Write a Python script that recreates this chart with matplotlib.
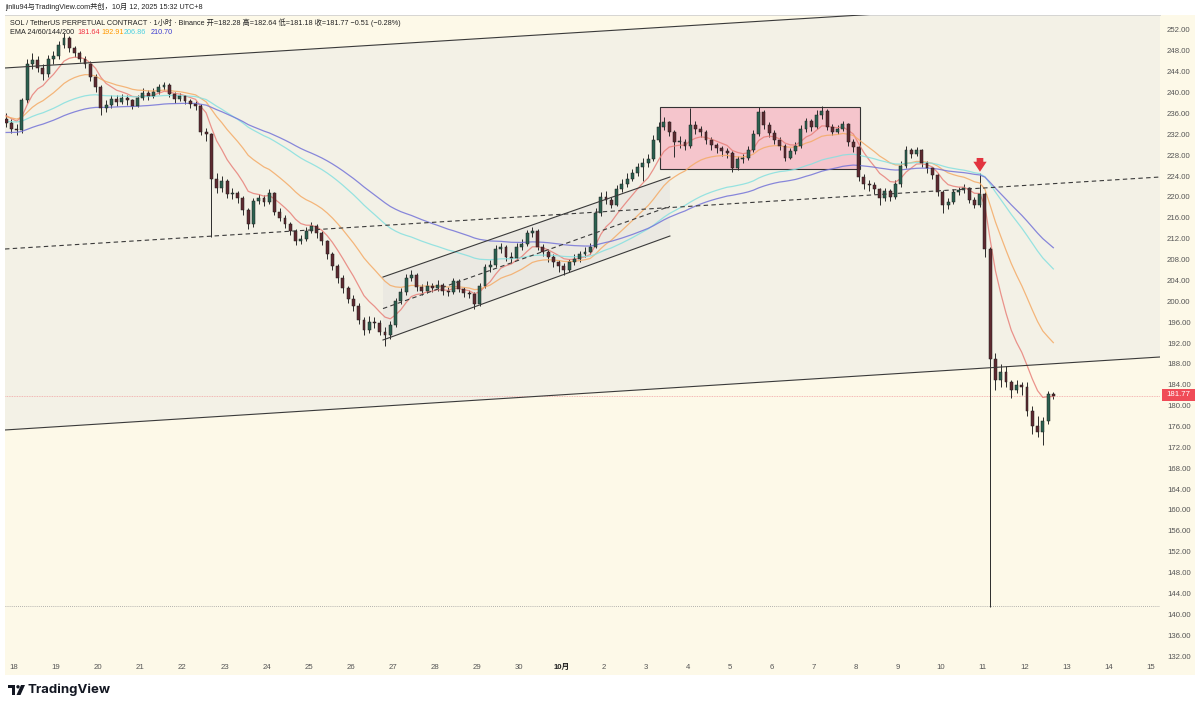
import matplotlib
matplotlib.use("Agg")
import matplotlib.pyplot as plt
import numpy as np
import pandas as pd
from matplotlib.patches import Polygon, Rectangle, FancyArrowPatch, Circle

plt.rcParams["font.family"] = ["Liberation Sans", "Noto Sans CJK SC", "DejaVu Sans"]

# 3-hour candles, day 0 = Sep 18 00:00 (UTC+8)
START_DAY = -0.25
BAR_DAYS = 0.125
FIRST_OPEN = 235.0

CLOSE = [
    234.2, 233.0,                                                   # Sep 17
    232.8, 238.5, 245.5, 246.2, 244.8, 243.5, 246.5, 247.0,         # Sep 18
    249.2, 250.5, 248.5, 247.5, 246.5, 245.5, 243.0, 241.0,         # Sep 19
    237.0, 237.6, 238.8, 238.2, 239.0, 238.5, 237.5, 239.0,         # Sep 20
    240.0, 239.3, 240.2, 241.0, 241.5, 239.8, 238.8, 239.3,         # Sep 21
    238.3, 237.8, 237.5, 232.5, 232.0, 223.5, 221.8, 223.0,         # Sep 22
    220.5, 220.8, 219.8, 217.5, 214.8, 219.2, 219.8, 219.0,         # Sep 23
    220.8, 217.2, 216.0, 214.8, 213.5, 211.5, 212.0, 213.5,         # Sep 24
    214.5, 213.0, 211.5, 209.0, 206.8, 204.5, 202.5, 200.5,         # Sep 25
    199.0, 196.5, 194.5, 196.0, 195.8, 194.2, 193.5, 195.5,         # Sep 26
    200.0, 201.8, 204.5, 205.0, 202.7, 202.0, 203.0, 202.5,         # Sep 27
    203.2, 202.0, 201.8, 203.8, 202.3, 201.5, 201.3, 199.5,         # Sep 28
    203.0, 206.5, 207.0, 210.0, 210.5, 208.5, 208.3, 210.5,         # Sep 29
    211.0, 213.0, 213.5, 210.5, 209.5, 208.5, 207.5, 206.8,         # Sep 30
    206.0, 207.5, 208.2, 209.0, 209.5, 210.5, 217.0, 220.0,         # Oct 1
    219.4, 218.5, 221.5, 222.5, 223.5, 224.5, 225.8, 226.5,         # Oct 2
    227.2, 231.0, 233.5, 234.3, 232.5, 230.5, 230.5, 229.8,         # Oct 3
    233.8, 233.0, 232.4, 231.0, 230.0, 229.3, 228.8, 228.5,         # Oct 4
    225.5, 227.2, 227.5, 229.0, 232.0, 236.3, 233.8, 232.3,         # Oct 5
    231.0, 229.8, 227.5, 228.8, 229.8, 233.0, 234.5, 233.5,         # Oct 6
    235.8, 236.5, 233.5, 232.5, 233.0, 234.0, 230.5, 229.5,         # Oct 7
    223.8, 222.5, 222.2, 221.5, 219.8, 221.2, 220.0, 222.5,         # Oct 8
    226.0, 229.0, 228.3, 229.0, 226.5, 225.5, 224.3, 221.0,         # Oct 9
    218.5, 219.0, 221.0, 221.3, 221.8, 219.5, 218.5, 220.5,         # Oct 10
    210.0, 189.0, 185.0, 186.5, 184.5, 183.0, 184.0, 183.5,         # Oct 11
    179.0, 176.0, 175.0, 177.0, 182.28, 181.77,                     # Oct 12
]
HIGH = [
    236.0, 235.0,
    234.0, 239.0, 246.5, 247.5, 247.0, 245.5, 247.2, 248.0,
    249.8, 251.5, 250.8, 249.0, 248.0, 247.0, 246.0, 243.5,
    241.5, 238.5, 239.5, 239.6, 239.8, 239.5, 238.8, 239.6,
    240.8, 240.5, 240.8, 241.6, 242.0, 241.8, 240.2, 240.0,
    239.6, 238.8, 238.3, 237.8, 233.2, 232.3, 224.5, 224.0,
    223.5, 221.8, 221.2, 220.2, 217.8, 219.8, 220.6, 220.3,
    221.5, 221.0, 217.8, 216.5, 215.2, 213.8, 212.8, 214.2,
    215.2, 214.8, 213.4, 211.8, 209.5, 207.2, 205.0, 203.0,
    201.2, 199.6, 197.0, 197.2, 197.0, 196.4, 195.0, 196.2,
    200.6, 202.6, 205.2, 206.0, 205.4, 203.4, 203.8, 203.6,
    204.0, 203.6, 202.8, 204.4, 204.2, 202.8, 202.2, 201.8,
    203.6, 207.2, 208.0, 210.8, 211.2, 210.8, 209.4, 211.2,
    212.0, 213.6, 214.3, 213.8, 211.0, 210.0, 209.0, 208.0,
    207.4, 208.2, 209.0, 209.6, 210.4, 211.2, 217.8, 221.0,
    221.2, 220.0, 222.2, 223.4, 224.6, 225.4, 226.6, 227.4,
    228.2, 231.8, 234.4, 235.3, 234.6, 232.8, 231.6, 231.2,
    237.0, 234.6, 233.6, 232.8, 231.4, 230.4, 229.8, 229.4,
    228.8, 227.8, 228.2, 229.8, 232.8, 237.3, 236.6, 234.4,
    232.8, 231.4, 230.2, 229.4, 230.6, 233.8, 235.2, 235.0,
    236.6, 237.4, 236.8, 234.0, 233.8, 234.6, 234.2, 231.2,
    229.8, 224.4, 223.2, 222.8, 221.8, 221.8, 221.6, 223.2,
    226.8, 229.8, 229.4, 229.6, 229.2, 226.8, 225.8, 224.6,
    221.4, 219.8, 221.6, 222.0, 222.4, 222.0, 220.0, 224.6,
    221.0, 210.5, 190.0, 188.0, 187.5, 185.0, 185.0, 184.5,
    184.5, 180.0, 178.0, 177.8, 182.8, 182.64,
]
LOW = [
    233.5, 232.2,
    231.8, 232.3, 238.0, 244.5, 244.0, 242.5, 243.0, 245.5,
    246.5, 248.5, 247.8, 246.8, 245.8, 244.8, 242.2, 240.2,
    235.7, 236.2, 237.0, 237.5, 237.8, 237.6, 236.8, 237.2,
    238.6, 238.6, 239.0, 239.8, 240.5, 239.2, 238.0, 238.3,
    237.8, 237.0, 236.6, 231.8, 230.8, 212.3, 220.8, 221.0,
    219.8, 219.6, 218.8, 216.6, 213.8, 214.2, 218.6, 218.2,
    218.6, 216.6, 215.3, 214.0, 212.8, 210.8, 210.9, 211.6,
    213.0, 212.2, 210.8, 208.2, 206.0, 203.6, 201.6, 199.6,
    198.2, 195.6, 193.6, 194.0, 194.8, 193.5, 191.4, 192.8,
    195.0, 199.4, 201.2, 203.8, 202.0, 201.2, 201.6, 201.8,
    202.0, 201.2, 201.0, 201.4, 201.8, 200.8, 200.6, 198.5,
    199.0, 202.6, 205.6, 206.6, 209.2, 207.8, 207.4, 208.0,
    209.8, 210.6, 212.4, 209.8, 208.6, 207.6, 206.6, 205.6,
    205.0, 205.6, 207.0, 207.6, 208.4, 209.0, 210.2, 216.4,
    218.6, 217.8, 218.2, 221.0, 222.0, 223.0, 224.0, 223.0,
    225.8, 226.8, 230.6, 232.8, 231.6, 227.7, 229.4, 229.0,
    229.4, 232.0, 231.4, 230.2, 229.0, 228.4, 227.8, 227.4,
    224.8, 225.2, 226.6, 227.0, 228.6, 231.6, 233.0, 231.5,
    230.2, 229.0, 226.8, 227.2, 228.2, 229.4, 232.4, 232.6,
    233.0, 235.0, 232.8, 231.8, 232.0, 232.6, 229.8, 228.6,
    223.0, 221.6, 221.2, 220.6, 218.5, 219.2, 219.2, 219.6,
    222.0, 225.6, 227.4, 227.8, 225.8, 224.6, 223.4, 220.2,
    217.0, 217.6, 218.6, 220.4, 220.8, 218.8, 217.8, 218.0,
    208.5, 141.4, 183.0, 183.5, 183.5, 181.5, 182.5, 182.0,
    178.0, 174.5, 174.0, 172.5, 176.5, 181.18,
]

EMA_NAMES = ["24", "60", "144", "200"]
EMA_SPANS = [8, 20, 48, 67]          # 1h periods rescaled to 3h bars
EMA_SEEDS = [236.0, 235.5, 234.5, 232.3]
EMA_LAST = ["181.64", "192.91", "206.86", "210.70"]
EMA_LINE_COLORS = ["#e8817a", "#f4ab67", "#86e0e0", "#7474d8"]
EMA_TEXT_COLORS = ["#f23645", "#ff9800", "#4dd0e1", "#3c3cd0"]

DAY_TICKS = list(range(28))
DAY_LABELS = [str(d) for d in range(18, 31)] + ["10月"] + [str(d) for d in range(2, 16)]
PRICE_TICKS = list(range(132, 253, 4))

# drawings (day, price)
WIDE_UPPER = [(-0.214, 244.72), (27.22, 258.42)]
WIDE_LOWER = [(-0.214, 175.33), (27.22, 189.32)]
WIDE_MID = [(-0.214, 210.02), (27.22, 223.82)]
CH_UPPER = [(8.765, 204.65), (15.58, 223.82)]
CH_LOWER = [(8.765, 192.58), (15.58, 212.51)]
CH_MID = [(8.765, 198.6), (15.58, 218.2)]
BOX = (15.35, 20.09, 225.36, 237.24)
ARROW_DAY = 22.945
LOW_LINE = 141.6
LAST_PRICE = 181.77

W, H = 1200, 707
CREAM = "#fdf9e8"
BAND = "#f3f1e6"
FS = 5.2
AXFS = 5.6

fig = plt.figure(figsize=(W / 100, H / 100), dpi=100)
fig.patch.set_facecolor("white")

bg = fig.add_axes([0, 0, 1, 1], zorder=0)
bg.set_xlim(0, W)
bg.set_ylim(H, 0)
bg.axis("off")
bg.add_patch(Rectangle((5, 15), 1190, 660, facecolor=CREAM, edgecolor="none"))

ax = fig.add_axes([5 / W, (H - 660) / H, 1155 / W, 645 / H], zorder=1)
ax.set_facecolor("none")
ax.set_xlim(-0.2138, 27.221)
ax.set_ylim(131.24, 254.875)
for s in ["left", "bottom", "right"]:
    ax.spines[s].set_visible(False)
ax.spines["top"].set_color("#d0d0d0")
ax.spines["top"].set_linewidth(0.6)

# wide channel band
xs = [WIDE_UPPER[0][0], WIDE_UPPER[1][0], WIDE_LOWER[1][0], WIDE_LOWER[0][0]]
ys = [WIDE_UPPER[0][1], WIDE_UPPER[1][1], WIDE_LOWER[1][1], WIDE_LOWER[0][1]]
ax.add_patch(Polygon(list(zip(xs, ys)), closed=True, facecolor=BAND, edgecolor="none", zorder=0.5))
for seg, ls in [(WIDE_UPPER, "-"), (WIDE_LOWER, "-"), (WIDE_MID, (0, (4, 3)))]:
    ax.plot([seg[0][0], seg[1][0]], [seg[0][1], seg[1][1]], color="#3a3a3a", lw=0.8, ls=ls, zorder=4)

# small parallel channel
poly = [CH_UPPER[0], CH_UPPER[1], CH_LOWER[1], CH_LOWER[0]]
ax.add_patch(Polygon(poly, closed=True, facecolor="#e9e8e1", edgecolor="none", alpha=0.8, zorder=0.8))
for seg, ls in [(CH_UPPER, "-"), (CH_LOWER, "-"), (CH_MID, (0, (4, 3)))]:
    ax.plot([seg[0][0], seg[1][0]], [seg[0][1], seg[1][1]], color="#3a3a3a", lw=0.8, ls=ls, zorder=4)

# range box
ax.add_patch(Rectangle((BOX[0], BOX[2]), BOX[1] - BOX[0], BOX[3] - BOX[2],
                       facecolor="#f5c5cc", edgecolor="#333333", lw=0.8, zorder=0.9))

ax.axhline(LOW_LINE, color="#9a9a9a", lw=0.6, ls=(0, (1, 1.5)), zorder=1)
ax.axhline(LAST_PRICE, color="#f2a3a3", lw=0.6, ls=(0, (1, 1)), zorder=1)

# candles
close = np.array(CLOSE)
opens = np.concatenate([[FIRST_OPEN], close[:-1]])
high = np.array(HIGH)
low = np.array(LOW)
t = START_DAY + np.arange(len(close)) * BAR_DAYS + BAR_DAYS / 2
up = close >= opens
ax.vlines(t, low, high, color="#2b2b2b", lw=0.7, zorder=2)
body_h = np.maximum(np.abs(close - opens), 0.15)
body_b = np.minimum(close, opens)
ax.bar(t[up], body_h[up], bottom=body_b[up], width=BAR_DAYS * 0.55,
       color="#2b6150", edgecolor="#1d1d1d", lw=0.35, zorder=3)
ax.bar(t[~up], body_h[~up], bottom=body_b[~up], width=BAR_DAYS * 0.55,
       color="#5e2a30", edgecolor="#1d1d1d", lw=0.35, zorder=3)

# EMAs
cs = pd.Series(close)
for span, seed, col in zip(EMA_SPANS, EMA_SEEDS, EMA_LINE_COLORS):
    ema = pd.concat([pd.Series([seed]), cs], ignore_index=True).ewm(span=span, adjust=False).mean().iloc[1:]
    ax.plot(t, ema.values, color=col, lw=0.9, alpha=0.85, zorder=2.5)

# signal arrow
ax.add_patch(FancyArrowPatch((ARROW_DAY, 228.0), (ARROW_DAY, 224.3),
                             arrowstyle="simple,head_width=1.2,head_length=0.9,tail_width=0.6",
                             mutation_scale=8, color="#e2343f", lw=0, zorder=5))

ax.set_xticks(DAY_TICKS)
ax.set_xticklabels(DAY_LABELS)
ax.tick_params(axis="x", length=0, pad=3, labelsize=AXFS, labelcolor="#555555")
for lab in ax.get_xticklabels():
    if lab.get_text() == "10月":
        lab.set_fontweight("bold")
        lab.set_color("#222222")
ax.yaxis.tick_right()
ax.set_yticks(PRICE_TICKS)
ax.set_yticklabels([f"{p:.2f}" for p in PRICE_TICKS])
ax.tick_params(axis="y", length=0, pad=5, labelsize=AXFS, labelcolor="#555555")

# overlay texts
ov = fig.add_axes([0, 0, 1, 1], zorder=3)
ov.set_xlim(0, W)
ov.set_ylim(H, 0)
ov.axis("off")
ov.patch.set_alpha(0)

ov.text(5, 7, "jinliu94与TradingView.com共创，10月 12, 2025 15:32 UTC+8",
        fontsize=FS, color="#222222", va="center", ha="left")
ov.text(10, 23, "SOL / TetherUS PERPETUAL CONTRACT · 1小时 · Binance 开=182.28 高=182.64 低=181.18 收=181.77 −0.51 (−0.28%)",
        fontsize=FS, color="#222222", va="center", ha="left")
ov.text(10, 33, "EMA 24/60/144/200", fontsize=FS, color="#222222", va="center", ha="left")
for xpos, val, col in zip([77, 101, 124, 151], EMA_LAST, EMA_TEXT_COLORS):
    ov.text(xpos, 33, val, fontsize=FS, color=col, va="center", ha="left")

ov.add_patch(Rectangle((1162, 389), 33, 12, facecolor="#f04b57", edgecolor="none"))
ov.text(1178.5, 395, f"{LAST_PRICE:.2f}", fontsize=AXFS, color="white", va="center", ha="center")

# TradingView logo
ov.add_patch(Rectangle((8, 685), 7, 3, facecolor="#131722", edgecolor="none"))
ov.add_patch(Rectangle((11.5, 685), 3.5, 10, facecolor="#131722", edgecolor="none"))
ov.add_patch(Circle((18, 686.8), 1.7, facecolor="#131722", edgecolor="none"))
ov.add_patch(Polygon([(21, 685), (25, 685), (20.5, 695), (16.5, 695)], closed=True,
                     facecolor="#131722", edgecolor="none"))
ov.text(28, 690, "TradingView", fontsize=9.5, fontweight="bold", color="#131722",
        va="center", ha="left", family=["Inter", "DejaVu Sans"])

fig.savefig("out.png", dpi=100, facecolor="white")
